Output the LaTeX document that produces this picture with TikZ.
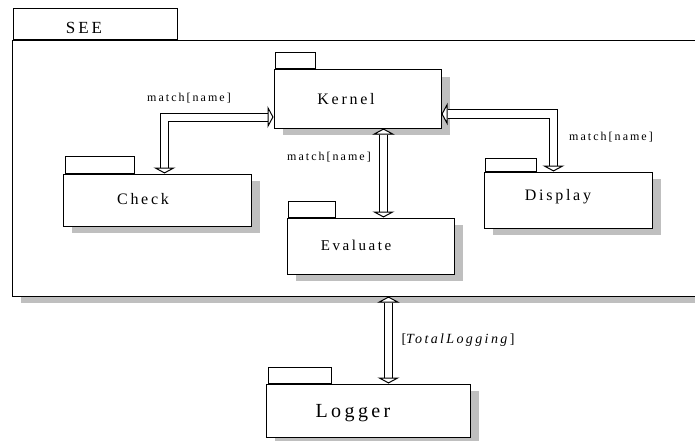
\documentclass[tikz,border=0pt]{standalone}
\usepackage{fontspec}
\setmainfont{Liberation Serif}[LetterSpace=17]
\usetikzlibrary{arrows.meta,shadows,positioning}

\begin{document}
\begin{tikzpicture}[x=1pt,y=-1pt,
		pkg/.style={draw, fill=white, inner sep=0pt, line width=1pt,
			general shadow={fill=black!25, shadow xshift=9pt, shadow yshift=-7pt}},
		tab/.style={draw, fill=white, inner sep=0pt, line width=1pt,
			minimum height=16pt, anchor=south west, xshift=1.5pt},
		pkgtitle/.style={anchor=base, inner sep=0pt, font=\fontsize{16}{18}\selectfont},
		lbl/.style={anchor=base, inner sep=0pt, font=\fontsize{12}{14}\selectfont},
		hollow/.tip={Triangle[color=black, fill=white, line width=1pt, width=22pt, length=6pt]},
		dbl/.style={draw=white, line width=1pt, hollow-hollow,
			preaction={draw=black, line width=9pt, arrows=-, shorten <=6pt, shorten >=6pt},
			preaction={draw=white, line width=7pt, arrows=-, shorten <=5pt, shorten >=5pt}}]
		
		\useasboundingbox (0,0) rectangle (695,441);
		
		% the SEE package
		\node[pkg, minimum width=690pt, minimum height=255pt] (see) at (357,168.5){};
		\node[tab, minimum width=164pt, minimum height=31pt, xshift=0pt] (seetab) at (see.north west){};
		\node[pkgtitle, font=\fontsize{17}{19}\selectfont] (seetxt) at (84,34){SEE};
		
		% packages inside
		\node[pkg, minimum width=167pt, minimum height=58pt] (kernel) at (357.5,99){};
		\node[tab, minimum width=40pt] (kerneltab) at (kernel.north west){};
		\node[pkgtitle] (kerneltxt) at (346,105){Kernel};
		
		\node[pkg, minimum width=188pt, minimum height=52pt] (check) at (157,200){};
		\node[tab, minimum width=69pt, minimum height=17pt, xshift=0.5pt] (checktab) at (check.north west){};
		\node[pkgtitle] (checktxt) at (143,204){Check};
		
		\node[pkg, minimum width=167pt, minimum height=56pt] (evaluate) at (370.5,246){};
		\node[tab, minimum width=47pt] (evaluatetab) at (evaluate.north west){};
		\node[pkgtitle, font=\fontsize{15}{17}\selectfont] (evaluatetxt) at (356,250){Evaluate};
		
		\node[pkg, minimum width=168pt, minimum height=56pt] (display) at (568,200){};
		\node[tab, minimum width=51pt, minimum height=13pt] (displaytab) at (display.north west){};
		\node[pkgtitle] (displaytxt) at (558,200){Display};
		
		% the Logger package
		\node[pkg, minimum width=204pt, minimum height=53pt] (logger) at (368,410.5){};
		\node[tab, minimum width=63pt, xshift=0.5pt] (loggertab) at (logger.north west){};
		\node[pkgtitle, font=\fontsize{20}{22}\selectfont] (loggertxt) at (353,417){Logger};
		
		% dependencies
		\draw[dbl] ([xshift=7.5pt]check.north) |- ([yshift=-18pt]kernel.west);
		\draw[dbl] ([yshift=-15pt]kernel.east) -| ([xshift=-14.5pt]display.north);
		\draw[dbl] ([xshift=26pt]kernel.south) -- ([xshift=13pt]evaluate.north);
		\draw[dbl] ([xshift=31.5pt]see.south) -- ([xshift=20.5pt]logger.north);
		
		\node[lbl] (lblcheck) at (189,102){match[name]};
		\node[lbl] (lbleval) at (329,160){match[name]};
		\node[lbl] (lbldisplay) at (611,140){match[name]};
		\node[lbl, font=\fontsize{14}{16}\selectfont] (lbllogger) at (458,343){[\textit{TotalLogging}]};
		
		\end{tikzpicture}
\end{document}
